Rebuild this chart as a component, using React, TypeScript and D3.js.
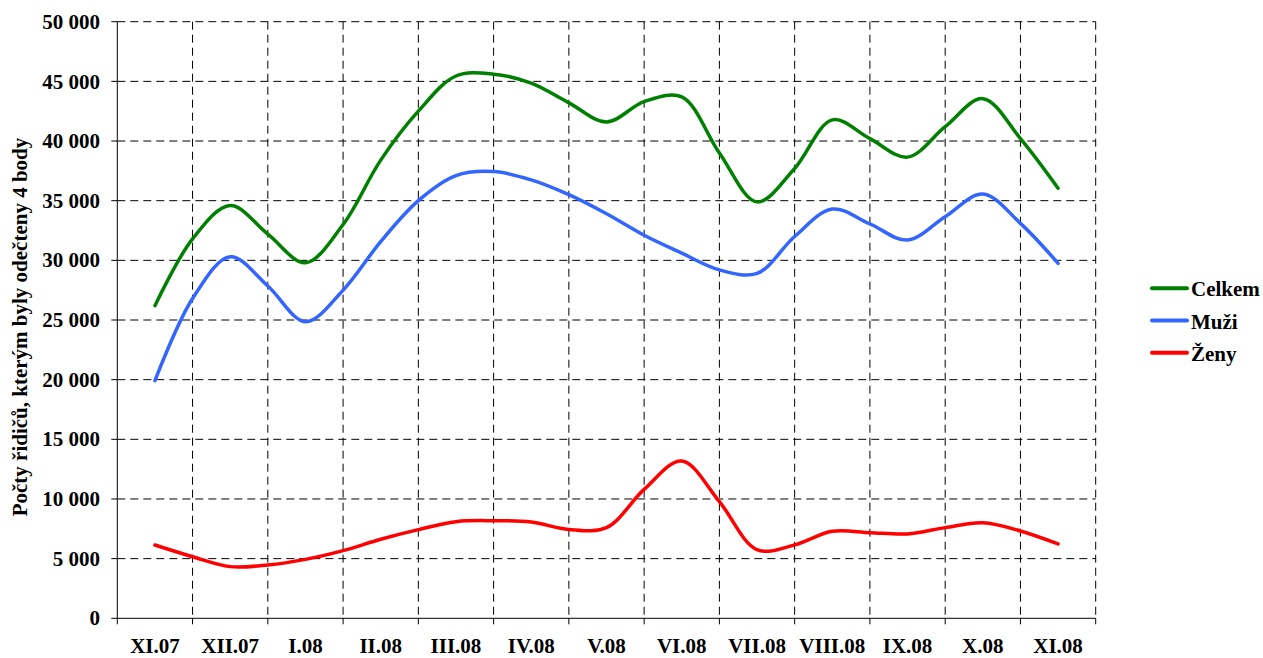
import React from "react";
import * as d3 from "d3";

// month labels on the category axis
const months = ["XI.07", "XII.07", "I.08", "II.08", "III.08", "IV.08", "V.08", "VI.08", "VII.08", "VIII.08", "IX.08", "X.08", "XI.08"];

// values read at half-month steps (XI.07, mid, XII.07, mid, ...)
const celkem = [26200, 31800, 34600, 32200, 29800, 33000, 38400, 42500, 45450, 45600, 44850, 43200, 41600, 43300, 43700, 39000, 34900, 37700, 41770, 40200, 38650, 41200, 43550, 40200, 36040];
const muzi = [19920, 26800, 30300, 27850, 24860, 27500, 31570, 35000, 37100, 37440, 36740, 35500, 33900, 32100, 30600, 29200, 28900, 32000, 34300, 33050, 31700, 33660, 35560, 33100, 29750];
const zeny = [6140, 5160, 4330, 4470, 4940, 5670, 6620, 7430, 8100, 8180, 8070, 7450, 7600, 10800, 13180, 9770, 5750, 6150, 7290, 7180, 7070, 7600, 8010, 7320, 6230];

const yTicks = [0, 5000, 10000, 15000, 20000, 25000, 30000, 35000, 40000, 45000, 50000];

const series = [
  { name: "Celkem", values: celkem, color: "#008000" },
  { name: "Muži", values: muzi, color: "#3366FF" },
  { name: "Ženy", values: zeny, color: "#FF0000" },
];

const W = 1263, H = 658;
const left = 117.3, right = 1095.7, top = 21.7, bottom = 618.3;
const font = "'Liberation Serif', 'Times New Roman', serif";

const fmt = (v: number) => d3.format(",")(v).replace(/,/g, " ");

export default function App() {
  const x = d3.scaleBand().domain(months).range([left, right]);
  const y = d3.scaleLinear().domain([0, 50000]).range([bottom, top]);
  const step = x.bandwidth() / 2;
  const px = (i: number) => left + x.bandwidth() / 2 + i * step;

  const line = d3
    .line<number>()
    .x((d, i) => px(i))
    .y((d) => y(d))
    .curve(d3.curveCatmullRom.alpha(0.5));

  const gridX = d3.range(months.length + 1).map((i) => left + i * x.bandwidth());

  return (
    <svg width={W} height={H} style={{ position: "absolute", left: 0, top: 0, background: "#fff", fontFamily: font }}>
      <g fontWeight="bold" fontSize={21}>
        {/* horizontal grid */}
        {yTicks.slice(1).map((t) => (
          <line key={"h" + t} x1={left} x2={right} y1={y(t)} y2={y(t)} stroke="#000" strokeDasharray="8,5" />
        ))}
        {/* vertical grid */}
        {gridX.slice(1).map((gx, i) => (
          <line key={"v" + i} x1={gx} x2={gx} y1={top} y2={bottom} stroke="#000" strokeDasharray="8,5" />
        ))}
        {/* axes */}
        <line x1={left} x2={left} y1={top} y2={bottom} stroke="#000" />
        <line x1={left} x2={right} y1={bottom} y2={bottom} stroke="#000" />
        {yTicks.map((t) => (
          <g key={"yt" + t}>
            <line x1={left - 6} x2={left} y1={y(t)} y2={y(t)} stroke="#000" />
            <text x={100} y={y(t)} dy="0.34em" textAnchor="end">{fmt(t)}</text>
          </g>
        ))}
        {gridX.map((gx, i) => (
          <line key={"xt" + i} x1={gx} x2={gx} y1={bottom} y2={bottom + 6} stroke="#000" />
        ))}
        {months.map((m) => (
          <text key={m} x={(x(m) as number) + x.bandwidth() / 2} y={653} textAnchor="middle">{m}</text>
        ))}
        <text transform="translate(27,327) rotate(-90)" textAnchor="middle">
          Počty řidičů, kterým byly odečteny 4 body
        </text>

        {/* series */}
        {series.map((s) => (
          <path key={s.name} d={line(s.values) || ""} fill="none" stroke={s.color} strokeWidth={3.5} strokeLinecap="round" strokeLinejoin="round" />
        ))}

        {/* legend */}
        {series.map((s, i) => {
          const ly = 288.3 + i * 32.2;
          return (
            <g key={"lg" + s.name}>
              <line x1={1152} x2={1187} y1={ly} y2={ly} stroke={s.color} strokeWidth={4} strokeLinecap="round" />
              <text x={1191} y={ly + 8}>{s.name}</text>
            </g>
          );
        })}
      </g>
    </svg>
  );
}
